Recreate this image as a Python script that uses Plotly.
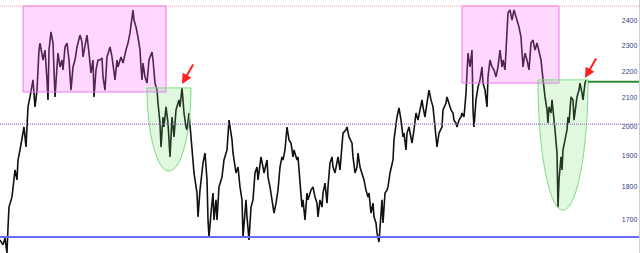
import math
import plotly.graph_objects as go

# ---- data -------------------------------------------------------------
bar = [0, 3, 5, 7, 8, 9, 12, 13, 15, 17, 18, 20, 22, 24, 26, 27, 28, 30, 33, 35,
       37, 39, 40, 43, 45, 47, 48, 49, 51, 53, 54, 55, 57, 58, 60, 62, 63, 65, 67, 69,
       71, 73, 75, 77, 80, 82, 83, 86, 87, 89, 91, 93, 94, 96, 98, 100, 102, 103, 105, 107,
       110, 112, 115, 117, 118, 121, 123, 126, 128, 130, 133, 134, 136, 138, 140, 141, 142, 143, 145, 147,
       149, 152, 153, 155, 157, 158, 160, 161, 163, 164, 166, 168, 170, 172, 174, 176, 179, 180, 182, 183,
       184, 186, 187, 189, 191, 193, 194, 197, 198, 200, 203, 205, 207, 208, 209, 211, 213, 214, 216, 217,
       219, 222, 224, 227, 228, 229, 232, 233, 236, 238, 240, 242, 243, 246, 247, 249, 251, 253, 255, 257,
       258, 261, 263, 264, 267, 268, 270, 272, 274, 276, 278, 280, 282, 283, 285, 287, 289, 291, 293, 294,
       297, 298, 300, 302, 303, 305, 307, 308, 311, 313, 315, 317, 318, 320, 322, 323, 325, 327, 328, 330,
       332, 333, 335, 337, 338, 340, 342, 343, 346, 347, 349, 352, 353, 355, 357, 358, 360, 362, 364, 366,
       368, 369, 371, 373, 374, 376, 377, 379, 381, 382, 383, 385, 387, 388, 390, 392, 393, 394, 396, 397,
       399, 401, 403, 404, 406, 407, 409, 412, 414, 416, 418, 420, 422, 423, 425, 427, 429, 431, 433, 434,
       436, 437, 439, 442, 443, 446, 447, 449, 451, 453, 454, 456, 457, 459, 461, 462, 464, 466, 467, 468,
       470, 472, 473, 474, 476, 478, 480, 482, 483, 485, 487, 488, 490, 492, 494, 496, 498, 500, 502, 503,
       505, 507, 508, 510, 512, 514, 517, 519, 521, 522, 523, 525, 527, 529, 531, 533, 535, 537, 538, 541,
       542, 543, 545, 547, 548, 549, 551, 552, 554, 555, 557, 558, 559, 561, 562, 563, 565, 567, 568, 569,
       571, 573, 574, 576, 577, 579, 580, 582, 583, 585, 586]

price = [1642, 1628, 1647, 1605, 1677, 1738, 1769, 1800, 1854, 1822, 1886, 1919, 1953, 1997, 1929, 2021, 2068, 2104, 2167, 2068,
         2129, 2282, 2310, 2243, 2282, 2167, 2093, 2282, 2355, 2310, 2155, 2104, 2216, 2270, 2216, 2243, 2205, 2294, 2310, 2243,
         2129, 2216, 2243, 2294, 2342, 2314, 2255, 2322, 2342, 2270, 2193, 2243, 2104, 2205, 2243, 2243, 2251, 2178, 2129, 2255,
         2294, 2255, 2167, 2243, 2216, 2255, 2231, 2282, 2310, 2351, 2446, 2404, 2375, 2334, 2282, 2216, 2167, 2231, 2178, 2155,
         2243, 2274, 2243, 2155, 2129, 2082, 2011, 1929, 2032, 1997, 2068, 2011, 1896, 2032, 1963, 2057, 2093, 2068, 2137, 2093,
         2046, 1997, 1987, 2046, 1953, 1896, 1844, 1781, 1709, 1790, 1876, 1909, 1822, 1700, 1650, 1720, 1781, 1700, 1760, 1700,
         1800, 1831, 1886, 1919, 1987, 2021, 1953, 1909, 1844, 1863, 1800, 1760, 1650, 1760, 1709, 1642, 1738, 1760, 1844, 1863,
         1822, 1896, 1863, 1844, 1886, 1831, 1800, 1760, 1720, 1750, 1790, 1863, 1896, 1886, 1919, 1997, 1953, 1942, 1896, 1919,
         1886, 1896, 1812, 1738, 1760, 1700, 1781, 1760, 1790, 1800, 1769, 1750, 1709, 1760, 1738, 1781, 1812, 1750, 1800, 1876,
         1896, 1863, 1844, 1876, 1896, 1854, 1929, 1976, 1987, 1997, 1963, 1942, 1896, 1844, 1863, 1909, 1863, 1844, 1822, 1790,
         1769, 1781, 1720, 1750, 1709, 1691, 1662, 1636, 1720, 1760, 1691, 1781, 1790, 1800, 1844, 1876, 1886, 1953, 2011, 2032,
         2064, 2021, 1963, 1976, 1919, 1976, 1997, 1942, 1987, 2046, 2021, 2057, 2093, 2068, 2032, 2082, 2129, 2093, 2068, 2032,
         1953, 1929, 1976, 1997, 2057, 2082, 2104, 2082, 2057, 2046, 2021, 2011, 1997, 2021, 2032, 2046, 2032, 2118, 2205, 2270,
         2216, 2282, 2057, 1997, 2093, 2140, 2167, 2216, 2155, 2129, 2068, 2178, 2243, 2216, 2205, 2178, 2216, 2282, 2216, 2243,
         2205, 2351, 2434, 2446, 2404, 2446, 2404, 2375, 2334, 2255, 2216, 2270, 2243, 2205, 2310, 2322, 2282, 2310, 2294, 2243,
         2205, 2167, 2104, 2057, 2011, 2068, 2046, 2093, 2032, 1987, 1909, 1738, 1822, 1896, 1854, 1919, 1953, 1987, 2032, 2011,
         2104, 2093, 2021, 2068, 2104, 2129, 2155, 2118, 2093, 2155, 2167]

tick_vals = [1700, 1800, 1900, 2000, 2100, 2200, 2300, 2400]
tick_text = ["1700", "1800", "1900", "2000", "2100", "2200", "2300", "2400"]

# reference levels
top_level = 2463
mid_level = 2007
support_level = 1650
breakout_level = 2160

# zones: (x0, x1, upper, lower)
pink_zones = [(23, 166, 2463, 2122), (462, 559, 2463, 2155)]
cup_zones = [(147, 191, 2137, 1850), (538, 588, 2167, 1729)]
arrow_targets = [(182, 2152), (585, 2174)]

# ---- figure -----------------------------------------------------------
fig = go.Figure()
fig.add_trace(go.Scatter(x=bar, y=price, mode="lines",
                         line=dict(color="#111111", width=1.6), hoverinfo="skip"))

shapes = []
for x0, x1, up, lo in pink_zones:
    shapes.append(dict(type="rect", xref="x", yref="y", x0=x0, x1=x1, y0=lo, y1=up,
                       fillcolor="rgba(255,102,255,0.26)",
                       line=dict(color="#ee77ee", width=1), layer="above"))

k = 0.5523
for x0, x1, up, lo in cup_zones:
    ct, cb = math.log10(up), math.log10(lo)
    ry = ct - cb
    rx = (x1 - x0) / 2
    cx = (x0 + x1) / 2
    ymid = 10 ** (ct - k * ry)
    path = (f"M {x0},{up} C {x0},{ymid} {cx - k * rx},{lo} {cx},{lo} "
            f"C {cx + k * rx},{lo} {x1},{ymid} {x1},{up} Z")
    shapes.append(dict(type="path", xref="x", yref="y", path=path,
                       fillcolor="rgba(100,220,100,0.2)",
                       line=dict(color="#7ddc7d", width=1), layer="above"))

shapes += [
    dict(type="line", xref="paper", yref="y", x0=0, x1=1, y0=top_level, y1=top_level,
         line=dict(color="#ff9a9a", width=1, dash="1px,1px")),
    dict(type="line", xref="paper", yref="y", x0=0, x1=1, y0=mid_level, y1=mid_level,
         line=dict(color="#9a70c8", width=1.3, dash="1px,1px")),
    dict(type="line", xref="paper", yref="y", x0=0, x1=1, y0=support_level, y1=support_level,
         line=dict(color="#6a6aff", width=2)),
    dict(type="line", xref="x", yref="y", x0=588, x1=640, y0=breakout_level, y1=breakout_level,
         line=dict(color="#2e8b2e", width=2)),
]

annotations = []
for ax_, ay_ in arrow_targets:
    annotations.append(dict(x=ax_, y=math.log10(ay_), xref="x", yref="y", text="",
                            showarrow=True, arrowhead=2, arrowsize=1, arrowwidth=2,
                            arrowcolor="#ff2020", ax=12, ay=-21))

fig.update_layout(
    width=640, height=253,
    margin=dict(l=0, r=1, t=0, b=0),
    paper_bgcolor="white", plot_bgcolor="white",
    showlegend=False,
    shapes=shapes,
    annotations=annotations,
    xaxis=dict(range=[0, 639], showgrid=False, zeroline=False, showticklabels=False,
               showline=False, fixedrange=True),
    yaxis=dict(type="log", range=[3.2055, 3.39601], side="right",
               tickvals=tick_vals, ticktext=tick_text, ticklabelposition="inside",
               ticks="", showgrid=False, zeroline=False,
               showline=True, linecolor="#d0d0d0", linewidth=1,
               tickfont=dict(family="Liberation Sans, Arial", size=7, color="#3a3a8a")),
)

fig.write_html("out.html")
